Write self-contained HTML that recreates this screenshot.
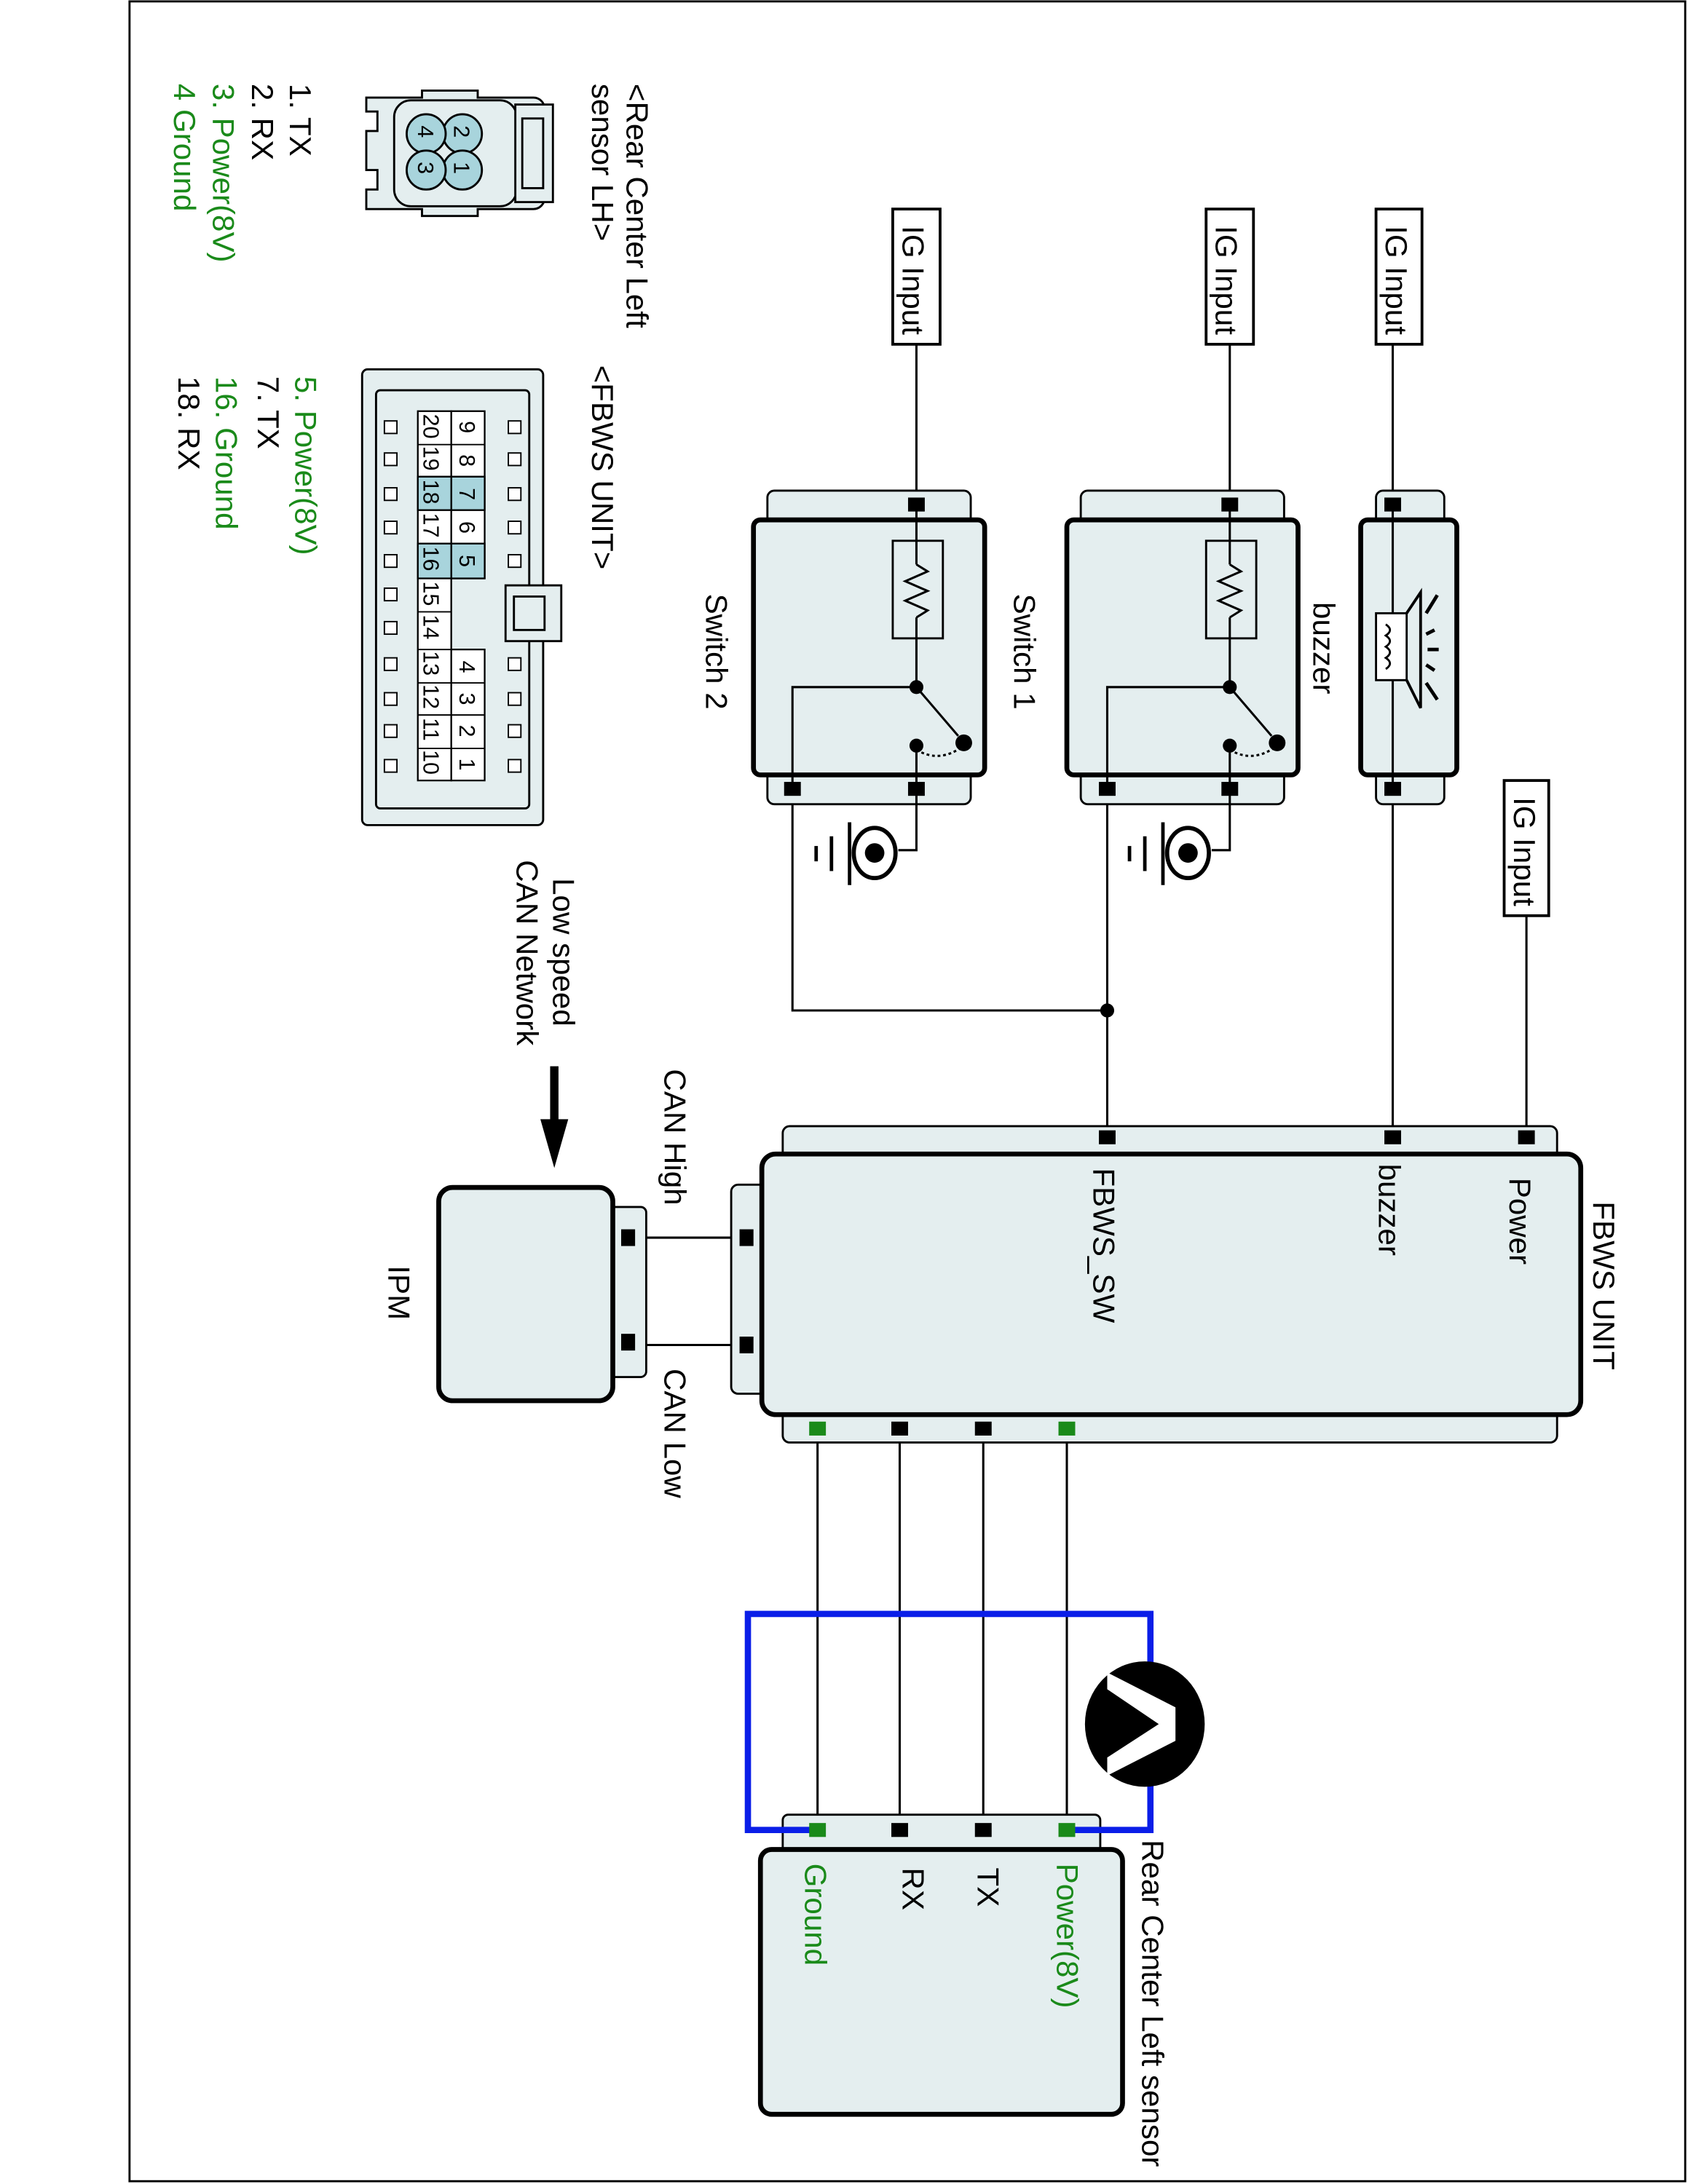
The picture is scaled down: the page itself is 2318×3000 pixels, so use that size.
<!DOCTYPE html>
<html><head><meta charset="utf-8"><style>
html,body{margin:0;padding:0;background:#fff;}
svg{display:block;}
text{font-family:"Liberation Sans",Arial,sans-serif;font-size:22px;fill:#000;}
.g{fill:#1a8a1a;}
.box{fill:#e4eeef;stroke:#000;stroke-width:3.5;}
.tab{fill:#e4eeef;stroke:#000;stroke-width:1.5;}
.w{stroke:#000;stroke-width:1.6;fill:none;}
.n{font-size:16px;}
</style></head><body>
<svg width="2318" height="3000" viewBox="0 0 1212 1567" preserveAspectRatio="none" xmlns="http://www.w3.org/2000/svg">
<rect x="0" y="0" width="1212" height="1567" fill="#fff"/>
<rect x="93" y="1" width="1117" height="1564" fill="none" stroke="#000" stroke-width="1.5"/>

<text transform="translate(450,60) rotate(90)">&lt;Rear Center Left</text>
<text transform="translate(425,60) rotate(90)">sensor LH&gt;</text>
<text transform="translate(208,60) rotate(90)">1. TX</text>
<text transform="translate(181,60) rotate(90)">2. RX</text>
<text class="g" transform="translate(153,60) rotate(90)">3. Power(8V)</text>
<text class="g" transform="translate(125,60) rotate(90)">4  Ground</text>
<text transform="translate(425,262) rotate(90)">&lt;FBWS UNIT&gt;</text>
<text class="g" transform="translate(212,270) rotate(90)">5. Power(8V)</text>
<text transform="translate(185,270) rotate(90)">7. TX</text>
<text class="g" transform="translate(155,270) rotate(90)">16. Ground</text>
<text transform="translate(128,270) rotate(90)">18. RX</text>

<g stroke="#000" stroke-width="1.5" fill="#e4eeef">
<path d="M263,70 h40 v-5 h40 v5 h40 a8,8 0 0 1 8,8 v64 a8,8 0 0 1 -8,8 h-40 v5 h-40 v-5 h-40 v-14 h8 v-14 h-8 v-28 h8 v-14 h-8 z"/>
<rect x="283" y="72" width="88" height="76" rx="12"/>
<rect x="370" y="75" width="27" height="70"/>
<rect x="375" y="85" width="15" height="50"/>
<circle cx="332" cy="96" r="14" fill="#a8d4dc"/>
<circle cx="332" cy="122" r="14" fill="#a8d4dc"/>
<circle cx="306" cy="96" r="14" fill="#a8d4dc"/>
<circle cx="306" cy="122" r="14" fill="#a8d4dc"/>
</g>
<text class="n" transform="translate(326,90) rotate(90)">2</text>
<text class="n" transform="translate(326,116) rotate(90)">1</text>
<text class="n" transform="translate(300,90) rotate(90)">4</text>
<text class="n" transform="translate(300,116) rotate(90)">3</text>

<g stroke="#000" stroke-width="1.5" fill="#e4eeef">
<rect x="260" y="265" width="130" height="327" rx="4"/>
<rect x="270" y="280" width="110" height="300" rx="3"/>
<rect x="363" y="420" width="40" height="40"/>
<rect x="369" y="428" width="22" height="24"/>
</g>
<g stroke="#000" stroke-width="1.2" fill="#fff">
<rect x="300" y="295" width="24" height="265"/>
<rect x="324" y="295" width="24" height="120"/>
<rect x="324" y="466" width="24" height="94"/>
</g>
<g fill="#a8d4dc" stroke="#000" stroke-width="1.2">
<rect x="324" y="342" width="24" height="24"/>
<rect x="324" y="390" width="24" height="25"/>
<rect x="300" y="342" width="24" height="24"/>
<rect x="300" y="390" width="24" height="25"/>
</g>
<g stroke="#000" stroke-width="1">
<line x1="300" y1="319" x2="348" y2="319"/><line x1="300" y1="342" x2="348" y2="342"/>
<line x1="300" y1="366" x2="348" y2="366"/><line x1="300" y1="390" x2="348" y2="390"/>
<line x1="300" y1="439" x2="324" y2="439"/><line x1="300" y1="466" x2="324" y2="466"/>
<line x1="300" y1="490" x2="348" y2="490"/><line x1="300" y1="513" x2="348" y2="513"/>
<line x1="300" y1="537" x2="348" y2="537"/>
</g>
<g fill="#fff" stroke="#000" stroke-width="1">
<rect x="276" y="302" width="9" height="9"/><rect x="276" y="325" width="9" height="9"/><rect x="276" y="350" width="9" height="9"/><rect x="276" y="374" width="9" height="9"/><rect x="276" y="398" width="9" height="9"/><rect x="276" y="422" width="9" height="9"/><rect x="276" y="446" width="9" height="9"/><rect x="276" y="472" width="9" height="9"/><rect x="276" y="497" width="9" height="9"/><rect x="276" y="520" width="9" height="9"/><rect x="276" y="545" width="9" height="9"/>
<rect x="365" y="302" width="9" height="9"/><rect x="365" y="325" width="9" height="9"/><rect x="365" y="350" width="9" height="9"/><rect x="365" y="374" width="9" height="9"/><rect x="365" y="398" width="9" height="9"/><rect x="365" y="472" width="9" height="9"/><rect x="365" y="497" width="9" height="9"/><rect x="365" y="520" width="9" height="9"/><rect x="365" y="545" width="9" height="9"/>
</g>
<text class="n" transform="translate(330,302) rotate(90)">9</text>
<text class="n" transform="translate(330,326) rotate(90)">8</text>
<text class="n" transform="translate(330,350) rotate(90)">7</text>
<text class="n" transform="translate(330,374) rotate(90)">6</text>
<text class="n" transform="translate(330,398) rotate(90)">5</text>
<text class="n" transform="translate(330,474) rotate(90)">4</text>
<text class="n" transform="translate(330,497) rotate(90)">3</text>
<text class="n" transform="translate(330,520) rotate(90)">2</text>
<text class="n" transform="translate(330,544) rotate(90)">1</text>
<text class="n" transform="translate(304,297) rotate(90)">20</text>
<text class="n" transform="translate(304,320) rotate(90)">19</text>
<text class="n" transform="translate(304,344) rotate(90)">18</text>
<text class="n" transform="translate(304,368) rotate(90)">17</text>
<text class="n" transform="translate(304,392) rotate(90)">16</text>
<text class="n" transform="translate(304,417) rotate(90)">15</text>
<text class="n" transform="translate(304,441) rotate(90)">14</text>
<text class="n" transform="translate(304,467) rotate(90)">13</text>
<text class="n" transform="translate(304,491) rotate(90)">12</text>
<text class="n" transform="translate(304,515) rotate(90)">11</text>
<text class="n" transform="translate(304,538) rotate(90)">10</text>

<g fill="#fff" stroke="#000" stroke-width="2">
<rect x="641" y="150" width="34" height="97"/>
<rect x="866" y="150" width="34" height="97"/>
<rect x="988" y="150" width="33" height="97"/>
<rect x="1080" y="560" width="32" height="97"/>
</g>
<text transform="translate(648,162) rotate(90)">IG Input</text>
<text transform="translate(873,162) rotate(90)">IG Input</text>
<text transform="translate(995,162) rotate(90)">IG Input</text>
<text transform="translate(1087,572) rotate(90)">IG Input</text>

<g class="w">
<line x1="658" y1="247" x2="658" y2="362"/>
<line x1="883" y1="247" x2="883" y2="362"/>
<line x1="1000" y1="247" x2="1000" y2="815"/>
<line x1="1096" y1="657" x2="1096" y2="815"/>
<polyline points="795,566 795,815"/>
<polyline points="569,566 569,725 795,725"/>
<line x1="536" y1="888" x2="451" y2="888"/>
<line x1="536" y1="965" x2="451" y2="965"/>
<line x1="587" y1="1025" x2="587" y2="1313"/>
<line x1="646" y1="1025" x2="646" y2="1313"/>
<line x1="706" y1="1025" x2="706" y2="1313"/>
<line x1="766" y1="1025" x2="766" y2="1313"/>
</g>
<circle cx="795" cy="725" r="5" fill="#000"/>

<g>
<rect class="tab" x="551" y="352" width="146" height="225" rx="5"/>
<rect class="box" x="541" y="373" width="166" height="183" rx="5"/>
<rect x="641" y="388" width="36" height="70" fill="none" stroke="#000" stroke-width="1.5"/>
<g class="w">
<line x1="658" y1="362" x2="658" y2="405"/>
<polyline points="658,405 666,410 650,417 666,424 650,431 666,438 658,443"/>
<line x1="658" y1="443" x2="658" y2="493"/>
<polyline points="658,493 569,493 569,566"/>
<line x1="658" y1="493" x2="688" y2="528"/>
<polyline points="658,535 658,610 645,610"/>
<path d="M658,538 Q675,548 692,535" stroke-dasharray="2,2"/>
</g>
<circle cx="658" cy="493" r="5"/><circle cx="658" cy="535" r="5"/><circle cx="692" cy="533" r="6"/>
<rect x="652" y="357" width="12" height="10"/><rect x="563" y="561" width="12" height="10"/><rect x="652" y="561" width="12" height="10"/>
<ellipse cx="628" cy="612" rx="15" ry="18" fill="#fff" stroke="#000" stroke-width="3"/>
<circle cx="628" cy="612" r="7"/>
<line x1="610" y1="590" x2="610" y2="635" stroke="#000" stroke-width="2.5"/>
<line x1="597" y1="600" x2="597" y2="625" stroke="#000" stroke-width="2.5"/>
<line x1="586" y1="607" x2="586" y2="618" stroke="#000" stroke-width="2.5"/>
</g>
<g transform="translate(225,0)">
<rect class="tab" x="551" y="352" width="146" height="225" rx="5"/>
<rect class="box" x="541" y="373" width="166" height="183" rx="5"/>
<rect x="641" y="388" width="36" height="70" fill="none" stroke="#000" stroke-width="1.5"/>
<g class="w">
<line x1="658" y1="362" x2="658" y2="405"/>
<polyline points="658,405 666,410 650,417 666,424 650,431 666,438 658,443"/>
<line x1="658" y1="443" x2="658" y2="493"/>
<polyline points="658,493 570,493 570,566"/>
<line x1="658" y1="493" x2="688" y2="528"/>
<polyline points="658,535 658,610 645,610"/>
<path d="M658,538 Q675,548 692,535" stroke-dasharray="2,2"/>
</g>
<circle cx="658" cy="493" r="5"/><circle cx="658" cy="535" r="5"/><circle cx="692" cy="533" r="6"/>
<rect x="652" y="357" width="12" height="10"/><rect x="564" y="561" width="12" height="10"/><rect x="652" y="561" width="12" height="10"/>
<ellipse cx="628" cy="612" rx="15" ry="18" fill="#fff" stroke="#000" stroke-width="3"/>
<circle cx="628" cy="612" r="7"/>
<line x1="610" y1="590" x2="610" y2="635" stroke="#000" stroke-width="2.5"/>
<line x1="597" y1="600" x2="597" y2="625" stroke="#000" stroke-width="2.5"/>
<line x1="586" y1="607" x2="586" y2="618" stroke="#000" stroke-width="2.5"/>
</g>
<text transform="translate(507,426) rotate(90)">Switch 2</text>
<text transform="translate(728,426) rotate(90)">Switch 1</text>

<rect class="tab" x="988" y="352" width="49" height="225" rx="5"/>
<rect class="box" x="977" y="373" width="69" height="183" rx="5"/>
<line x1="1000" y1="362" x2="1000" y2="566" stroke="#000" stroke-width="1.6"/>
<rect x="994" y="357" width="12" height="10"/><rect x="994" y="561" width="12" height="10"/>
<rect x="988" y="440" width="22" height="48" fill="#fff" stroke="#000" stroke-width="1.5"/>
<path d="M995,448 q6,4 0,8 q6,4 0,8 q6,4 0,8 q6,4 0,8" fill="none" stroke="#000" stroke-width="1.5"/>
<polyline points="1010,440 1020,425 1020,508 1010,488" fill="none" stroke="#000" stroke-width="2"/>
<g stroke="#000" stroke-width="2.5">
<line x1="1024" y1="440" x2="1032" y2="427"/><line x1="1024" y1="455" x2="1030" y2="452"/>
<line x1="1025" y1="466" x2="1033" y2="466"/><line x1="1024" y1="477" x2="1030" y2="481"/>
<line x1="1024" y1="490" x2="1032" y2="502"/>
</g>
<text transform="translate(943,432) rotate(90)">buzzer</text>

<rect class="tab" x="562" y="808" width="556" height="227" rx="5"/>
<rect class="tab" x="525" y="850" width="30" height="150" rx="5"/>
<rect class="box" x="547" y="828" width="588" height="187" rx="10"/>
<rect x="789" y="811" width="12" height="10"/><rect x="994" y="811" width="12" height="10"/><rect x="1090" y="811" width="12" height="10"/>
<rect x="581" y="1020" width="12" height="10" fill="#1a8a1a"/><rect x="640" y="1020" width="12" height="10"/><rect x="700" y="1020" width="12" height="10"/><rect x="760" y="1020" width="12" height="10" fill="#1a8a1a"/>
<rect x="531" y="882" width="10" height="12"/><rect x="531" y="959" width="10" height="12"/>
<text transform="translate(1144,862) rotate(90)">FBWS UNIT</text>
<text transform="translate(1084,845) rotate(90)">Power</text>
<text transform="translate(990,835) rotate(90)">buzzer</text>
<text transform="translate(785,838) rotate(90)">FBWS_SW</text>

<rect class="tab" x="430" y="866" width="34" height="122" rx="4"/>
<rect class="box" x="315" y="852" width="125" height="153" rx="10"/>
<rect x="446" y="882" width="10" height="12"/><rect x="446" y="957" width="10" height="12"/>
<text transform="translate(279,908) rotate(90)">IPM</text>
<text transform="translate(477,767) rotate(90)">CAN High</text>
<text transform="translate(477,982) rotate(90)">CAN Low</text>
<text transform="translate(397,630) rotate(90)">Low speed</text>
<text transform="translate(371,617) rotate(90)">CAN Network</text>
<line x1="398" y1="765" x2="398" y2="805" stroke="#000" stroke-width="6"/>
<polygon points="388,803 408,803 398,838"/>

<rect class="tab" x="562" y="1302" width="228" height="30" rx="4"/>
<rect class="box" x="546" y="1327" width="260" height="190" rx="8"/>
<path d="M587,1313 H537 V1158 H826 V1313 H770" fill="none" stroke="#0a1ee8" stroke-width="4.5"/>
<rect x="581" y="1308" width="12" height="10" fill="#1a8a1a"/><rect x="640" y="1308" width="12" height="10"/><rect x="700" y="1308" width="12" height="10"/><rect x="760" y="1308" width="12" height="10" fill="#1a8a1a"/>
<ellipse cx="822" cy="1237" rx="43" ry="45" fill="#000"/>
<polygon points="795,1212 795,1200 844,1225 844,1249 795,1274 795,1261 832,1237" fill="#fff"/>
<text class="g" transform="translate(578,1337) rotate(90)">Ground</text>
<text transform="translate(648,1340) rotate(90)">RX</text>
<text transform="translate(702,1340) rotate(90)">TX</text>
<text class="g" transform="translate(759,1337) rotate(90)">Power(8V)</text>
<text transform="translate(820,1320) rotate(90)">Rear Center Left sensor</text>
</svg>
</body></html>
